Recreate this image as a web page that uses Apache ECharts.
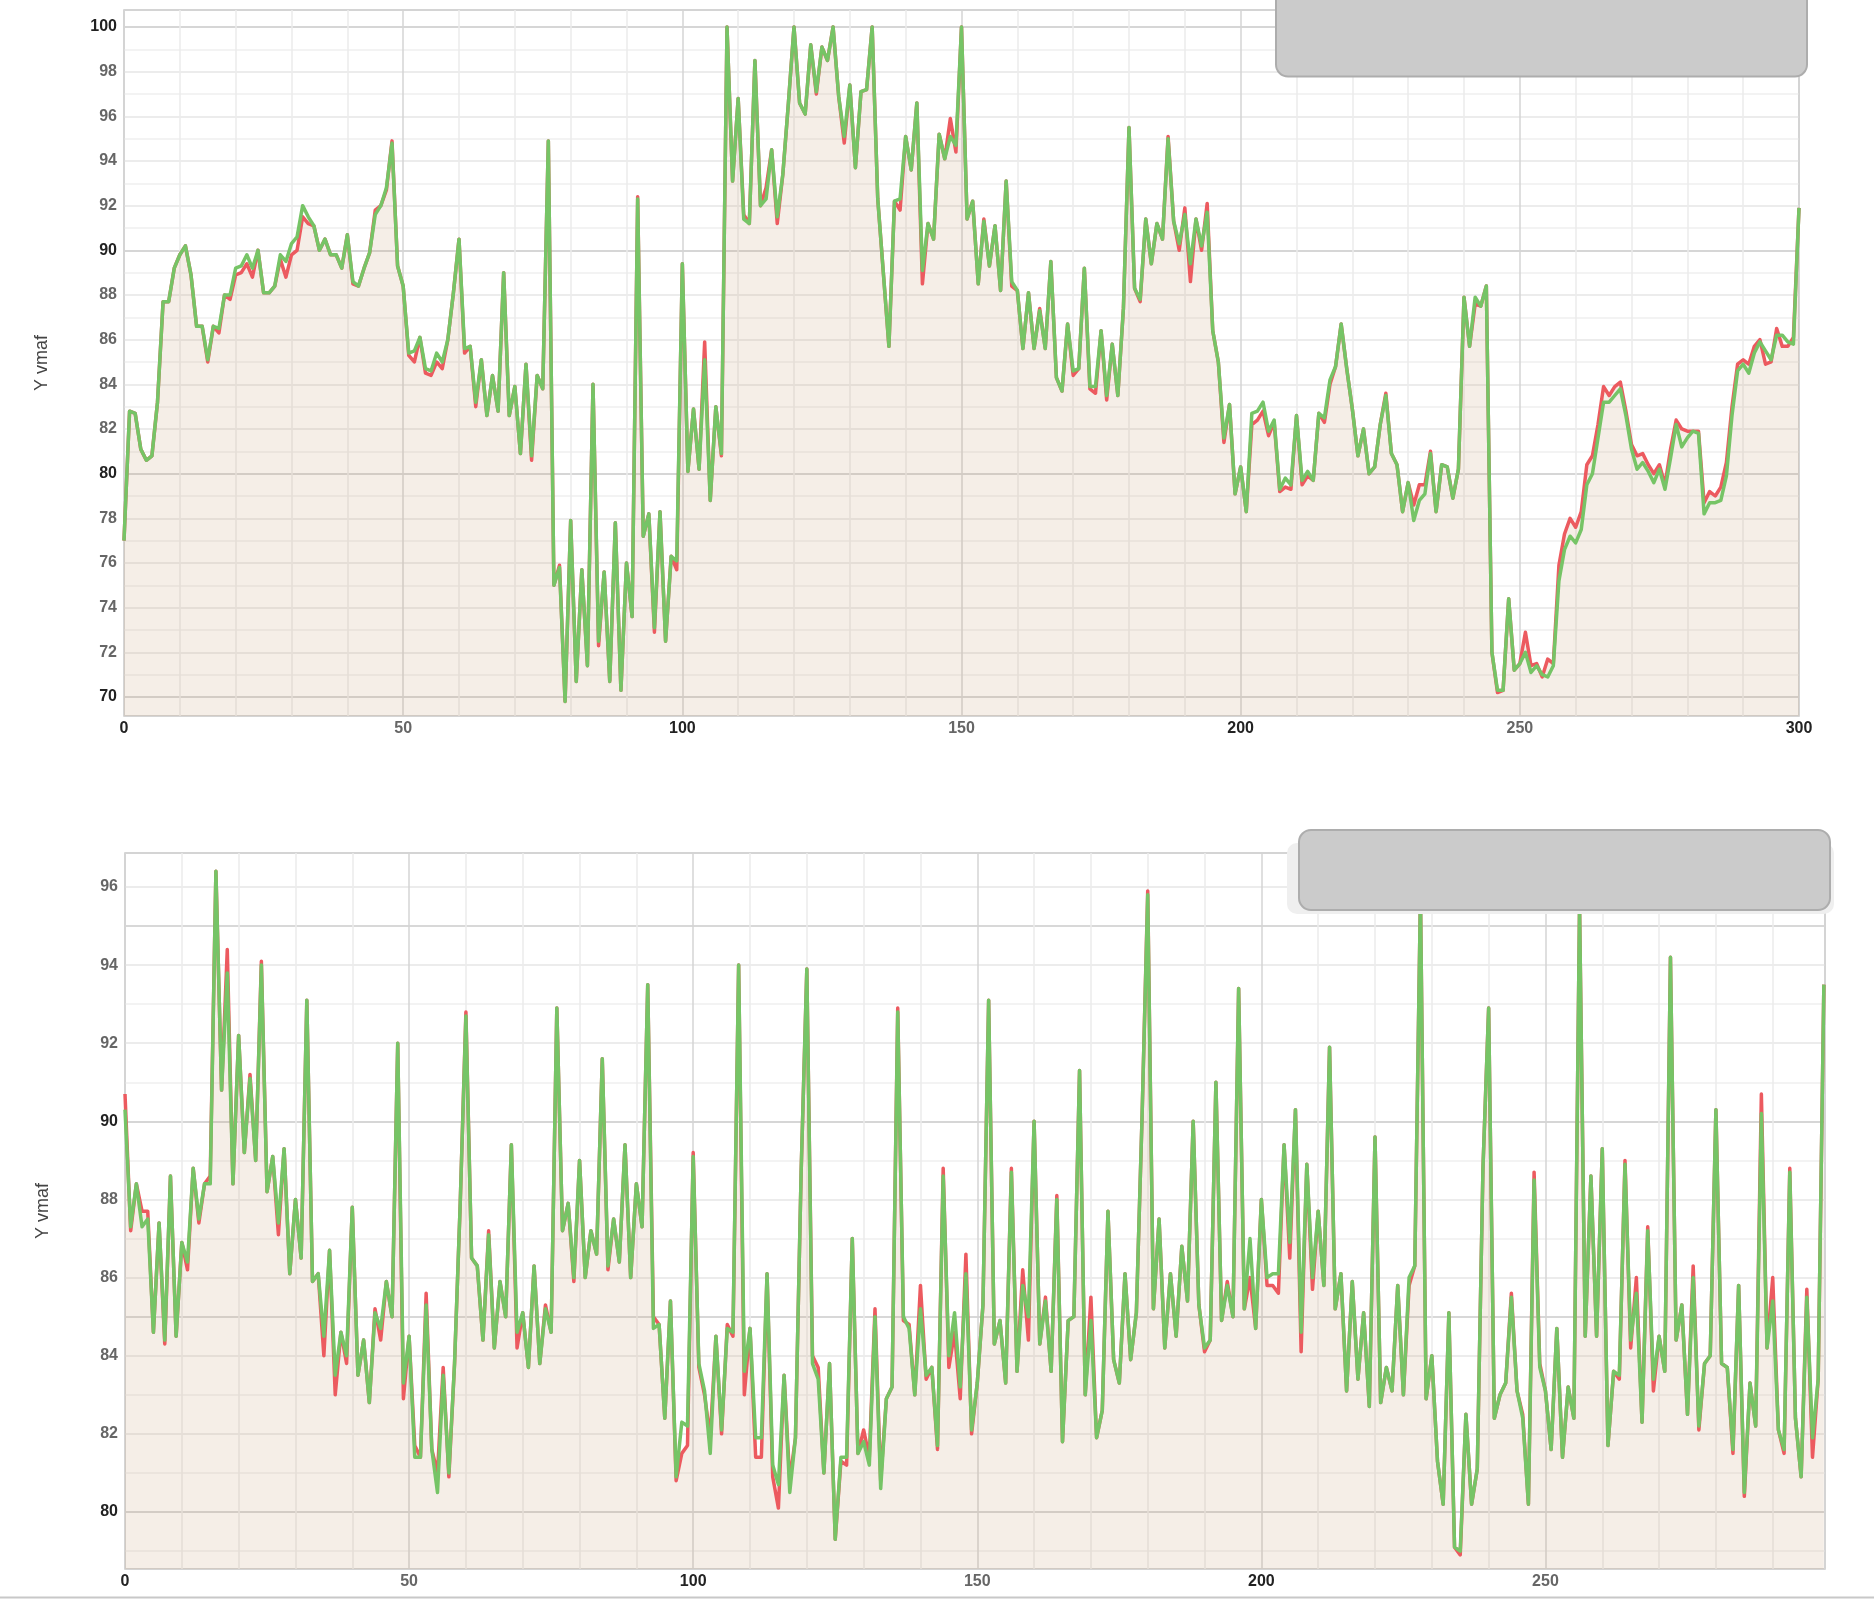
<!DOCTYPE html>
<html><head><meta charset="utf-8">
<script src="https://cdn.jsdelivr.net/npm/echarts@6/dist/echarts.min.js"></script>
<style>html,body{margin:0;padding:0;background:#fff;overflow:hidden}#c{width:1874px;height:1599px}</style>
</head><body><div id="c"></div>
<script>
// ---------- DATA (frame index = array position) ----------
const topGreen = [
77.0,82.8,82.7,81.1,80.6,80.8,83.2,87.7,87.7,89.2,
89.8,90.2,88.9,86.6,86.6,85.1,86.6,86.5,88.0,88.0,
89.2,89.3,89.8,89.2,90.0,88.1,88.1,88.4,89.8,89.5,
90.3,90.6,92.0,91.5,91.1,90.0,90.5,89.8,89.8,89.2,
90.7,88.6,88.4,89.2,89.9,91.6,92.0,92.8,94.8,89.3,
88.4,85.4,85.5,86.1,84.7,84.6,85.4,85.0,86.0,88.1,
90.5,85.6,85.7,83.2,85.1,82.6,84.4,82.8,89.0,82.6,
83.9,80.9,84.9,80.8,84.4,83.8,94.9,75.0,75.8,69.8,
77.9,70.7,75.7,71.4,84.0,72.5,75.6,70.7,77.8,70.3,
76.0,73.6,92.3,77.2,78.2,73.1,78.3,72.5,76.3,76.1,
89.4,80.1,82.9,80.2,85.1,78.8,83.0,80.9,100.0,93.1,
96.8,91.4,91.2,98.5,92.0,92.3,94.5,91.5,93.4,96.6,
100.0,96.6,96.1,99.2,97.1,99.1,98.5,100.0,96.9,95.1,
97.4,93.7,97.1,97.2,100.0,92.3,89.0,85.7,92.2,92.3,
95.1,93.6,96.6,89.1,91.2,90.5,95.2,94.1,95.1,94.7,
100.0,91.4,92.2,88.5,91.3,89.3,91.1,88.2,93.1,88.6,
88.2,85.6,88.1,85.6,87.3,85.6,89.5,84.3,83.7,86.7,
84.6,84.7,89.2,83.9,83.9,86.4,83.5,85.8,83.5,87.4,
95.5,88.3,87.8,91.4,89.4,91.2,90.5,95.0,91.3,90.3,
91.6,89.4,91.4,90.2,91.7,86.4,85.0,81.6,83.1,79.1,
80.3,78.3,82.7,82.8,83.2,81.9,82.4,79.3,79.8,79.5,
82.6,79.7,80.1,79.7,82.7,82.5,84.2,84.8,86.7,84.7,
82.9,80.8,82.0,80.0,80.3,82.2,83.5,80.9,80.4,78.3,
79.6,77.9,78.8,79.1,80.9,78.3,80.4,80.3,78.9,80.2,
87.9,85.7,87.9,87.5,88.4,72.0,70.3,70.3,74.4,71.2,
71.5,72.0,71.1,71.4,71.0,70.9,71.4,75.2,76.6,77.2,
76.9,77.5,79.5,80.0,81.6,83.2,83.2,83.5,83.8,82.6,
81.1,80.2,80.5,80.1,79.6,80.2,79.3,80.7,82.2,81.2,
81.6,81.9,81.8,78.2,78.7,78.7,78.8,79.9,82.6,84.6,
84.9,84.5,85.4,85.9,85.5,85.1,86.2,86.2,85.9,85.8,
91.9];

const topRed = [
77.0,82.8,82.7,81.1,80.6,80.8,83.2,87.7,87.7,89.2,
89.8,90.2,88.9,86.6,86.6,85.0,86.6,86.3,88.0,87.8,
88.9,89.0,89.4,88.8,90.0,88.1,88.1,88.4,89.6,88.8,
89.8,90.0,91.5,91.2,91.1,90.0,90.5,89.8,89.8,89.2,
90.7,88.5,88.4,89.2,89.9,91.8,92.0,92.7,94.9,89.3,
88.4,85.3,85.0,86.1,84.5,84.4,85.0,84.7,86.0,88.1,
90.5,85.4,85.7,83.0,85.1,82.6,84.4,82.8,89.0,82.6,
83.9,80.9,84.9,80.6,84.4,83.8,94.9,75.0,75.9,69.8,
77.9,70.7,75.7,71.4,84.0,72.3,75.6,70.7,77.8,70.3,
76.0,73.6,92.4,77.2,78.2,72.9,78.3,72.5,76.3,75.7,
89.4,80.1,82.9,80.2,85.9,78.8,83.0,80.8,100.0,93.1,
96.8,91.6,91.2,98.5,92.0,92.8,94.5,91.2,93.4,96.6,
100.0,96.6,96.1,99.2,97.0,99.1,98.5,100.0,96.9,94.8,
97.4,93.7,97.1,97.2,100.0,92.3,89.0,85.7,92.2,91.8,
95.1,93.6,96.6,88.5,91.2,90.5,95.2,94.1,95.9,94.4,
100.0,91.4,92.2,88.5,91.4,89.3,91.1,88.2,93.1,88.4,
88.2,85.6,88.1,85.6,87.4,85.6,89.5,84.3,83.7,86.7,
84.4,84.7,89.2,83.8,83.6,86.4,83.3,85.8,83.5,87.4,
95.5,88.3,87.7,91.4,89.4,91.2,90.5,95.1,91.3,90.0,
91.9,88.6,91.4,90.0,92.1,86.4,85.0,81.4,83.1,79.1,
80.3,78.3,82.2,82.4,82.8,81.7,82.3,79.2,79.4,79.3,
82.6,79.5,79.9,79.7,82.7,82.3,84.0,84.8,86.7,84.7,
82.9,80.8,82.0,80.0,80.3,82.2,83.6,80.9,80.4,78.3,
79.6,78.6,79.5,79.5,81.0,78.3,80.4,80.3,78.9,80.2,
87.9,85.7,87.6,87.5,88.4,72.0,70.2,70.3,74.4,71.2,
71.5,72.9,71.4,71.5,70.9,71.7,71.5,75.9,77.3,78.0,
77.6,78.3,80.4,80.8,82.2,83.9,83.5,83.9,84.1,82.8,
81.3,80.8,80.9,80.4,80.0,80.4,79.5,81.1,82.4,82.0,
81.9,81.9,81.9,78.7,79.2,79.0,79.4,80.5,83.0,84.9,
85.1,84.9,85.7,86.0,84.9,85.0,86.5,85.7,85.7,86.1,
91.9];

const bottomGreen = [
90.3,87.3,88.4,87.3,87.5,84.6,87.4,84.4,88.6,84.5,
86.9,86.4,88.8,87.5,88.4,88.4,96.4,90.8,93.8,88.4,
92.2,89.2,91.1,89.0,94.0,88.2,89.1,87.4,89.3,86.1,
88.0,86.5,93.1,85.9,86.1,84.5,86.7,83.5,84.6,84.0,
87.8,83.5,84.4,82.8,85.1,84.7,85.9,85.0,92.0,83.3,
84.5,81.4,81.4,85.3,81.6,80.5,83.5,81.0,83.8,87.9,
92.7,86.5,86.3,84.4,87.1,84.2,85.9,85.0,89.4,84.6,
85.1,83.7,86.3,83.8,85.2,84.6,92.9,87.2,87.9,86.0,
89.0,86.0,87.2,86.6,91.6,86.3,87.5,86.4,89.4,86.0,
88.4,87.3,93.5,84.7,84.8,82.4,85.4,80.9,82.3,82.2,
89.1,83.8,83.1,81.5,84.5,82.1,84.7,84.6,94.0,83.6,
84.7,81.9,81.9,86.1,81.2,80.7,83.5,80.5,81.9,88.7,
93.9,83.8,83.4,81.0,83.8,79.3,81.4,81.4,87.0,81.5,
81.8,81.2,85.0,80.6,82.9,83.2,92.8,85.0,84.7,83.0,
85.2,83.5,83.7,81.7,88.6,84.0,85.1,83.2,86.1,82.1,
83.3,85.3,93.1,84.3,84.9,83.3,88.7,83.6,85.8,85.0,
90.0,84.3,85.4,83.6,88.0,81.8,84.9,85.0,91.3,83.0,
84.9,81.9,82.6,87.7,83.9,83.3,86.1,83.9,85.1,90.1,
95.8,85.2,87.5,84.2,86.1,84.5,86.8,85.4,90.0,85.3,
84.2,84.4,91.0,84.9,85.8,85.0,93.4,85.2,87.0,84.7,
88.0,86.0,86.1,86.1,89.4,86.9,90.3,84.6,88.9,86.0,
87.7,85.8,91.9,85.2,86.1,83.1,85.9,83.4,85.1,82.7,
89.6,82.8,83.7,83.1,85.8,83.0,86.0,86.3,95.8,82.9,
84.0,81.3,80.2,85.1,79.1,79.0,82.5,80.2,81.1,88.8,
92.9,82.4,83.0,83.3,85.5,83.1,82.4,80.2,88.5,83.7,
83.1,81.6,84.7,81.4,83.2,82.4,95.5,84.5,88.6,84.5,
89.3,81.7,83.6,83.5,88.9,84.4,85.6,82.3,87.2,83.4,
84.5,83.6,94.2,84.4,85.3,82.5,86.0,82.2,83.8,84.0,
90.3,83.8,83.7,81.6,85.8,80.5,83.3,82.2,90.2,84.2,
85.4,82.1,81.6,88.7,82.4,80.9,85.5,81.9,83.4,93.5];

const bottomRed = [
90.7,87.2,88.4,87.7,87.7,84.6,87.4,84.3,88.6,84.5,
86.9,86.2,88.8,87.4,88.4,88.6,96.4,90.8,94.4,88.4,
92.2,89.2,91.2,89.0,94.1,88.2,89.1,87.1,89.3,86.1,
88.0,86.5,93.1,85.9,86.1,84.0,86.7,83.0,84.6,83.8,
87.8,83.5,84.4,82.8,85.2,84.4,85.9,85.0,92.0,82.9,
84.5,81.7,81.4,85.6,81.6,81.0,83.7,80.9,83.8,87.9,
92.8,86.5,86.3,84.4,87.2,84.2,85.9,85.0,89.4,84.2,
85.1,83.7,86.3,83.8,85.3,84.6,92.9,87.2,87.9,85.9,
89.0,86.0,87.2,86.6,91.6,86.2,87.5,86.4,89.4,86.0,
88.4,87.3,93.5,85.0,84.8,82.4,85.4,80.8,81.5,81.7,
89.2,83.7,83.0,81.9,84.5,82.0,84.8,84.5,94.0,83.0,
84.7,81.4,81.4,86.1,80.9,80.1,83.5,80.8,81.9,88.7,
93.9,84.0,83.7,81.0,83.8,79.3,81.3,81.2,87.0,81.5,
82.1,81.4,85.2,80.8,82.9,83.2,92.9,84.9,84.8,83.0,
85.8,83.4,83.7,81.6,88.8,83.7,84.6,82.9,86.6,82.0,
83.3,85.3,93.1,84.3,84.9,83.3,88.8,83.6,86.2,84.4,
90.0,84.3,85.5,83.6,88.1,81.8,84.9,85.0,91.3,83.0,
85.5,81.9,82.6,87.7,83.9,83.3,86.1,83.9,85.1,90.1,
95.9,85.2,87.5,84.2,86.1,84.5,86.8,85.4,90.0,85.3,
84.1,84.4,91.0,84.9,85.9,85.0,93.4,85.2,86.0,84.7,
88.0,85.8,85.8,85.6,89.4,86.5,90.3,84.1,88.9,85.7,
87.7,85.8,91.9,85.2,86.1,83.1,85.9,83.4,85.1,82.7,
89.6,82.8,83.7,83.1,85.8,83.0,85.8,86.3,95.8,82.9,
84.0,81.3,80.2,85.1,79.1,78.9,82.5,80.2,81.1,88.8,
92.9,82.4,83.0,83.3,85.6,83.1,82.5,80.2,88.7,83.8,
83.1,81.6,84.7,81.4,83.2,82.4,95.5,84.5,88.6,84.5,
89.3,81.7,83.6,83.4,89.0,84.2,86.0,82.3,87.3,83.1,
84.5,83.6,94.2,84.4,85.3,82.5,86.3,82.1,83.8,84.0,
90.3,83.8,83.7,81.5,85.8,80.4,83.3,82.2,90.7,84.2,
86.0,82.1,81.5,88.8,82.4,80.9,85.7,81.4,83.4,93.5];

const yAxisName = 'Y vmaf';

// ---------- STYLE ----------
const FONT = '"Liberation Sans", Arial, sans-serif';
const RED = '#ec5a5f';
const GREEN = '#76c466';
const FILL = 'rgba(196,158,120,0.25)';

function pairs(arr) { return arr.map((v, i) => [i, v]); }

function yLabelFmt(major) {
  return function (v) {
    const r = Math.round(v);
    return (r % major === 0) ? '{b|' + r + '}' : '{n|' + r + '}';
  };
}
function xLabelFmt(v) {
  const r = Math.round(v);
  return (r % 100 === 0) ? '{b|' + r + '}' : '{n|' + r + '}';
}
const rich = {
  b: { fontFamily: FONT, fontSize: 16, fontWeight: 'bold', color: '#222' },
  n: { fontFamily: FONT, fontSize: 16, fontWeight: 'bold', color: '#666' }
};

function xAxisCfg(gi, max) {
  return {
    type: 'value', gridIndex: gi, min: 0, max: max, interval: 50,
    axisLine: { show: false }, axisTick: { show: false },
    axisLabel: { margin: 5, formatter: xLabelFmt, rich: rich, showMaxLabel: max % 50 === 0 },
    splitLine: { show: true, lineStyle: { color: '#d4d4d4', width: 1.5 } },
    minorTick: { show: false, splitNumber: 5 },
    minorSplitLine: { show: true, lineStyle: { color: '#ebebeb', width: 1.5 } }
  };
}
function yLabelAxis(gi, min, max, split, major) {
  return {
    type: 'value', gridIndex: gi, position: 'left', min: min, max: max, splitNumber: split,
    axisLine: { show: false }, axisTick: { show: false },
    axisLabel: { margin: 7, formatter: yLabelFmt(major), rich: rich, showMinLabel: false, showMaxLabel: false },
    splitLine: { show: true, lineStyle: { color: '#e6e6e6', width: 1.5 } },
    minorTick: { show: false, splitNumber: 2 },
    minorSplitLine: { show: true, lineStyle: { color: '#efefef', width: 1.5 } },
    name: yAxisName, nameLocation: 'middle', nameGap: 73, nameRotate: 90,
    nameTextStyle: { fontFamily: FONT, fontSize: 18, color: '#444' }
  };
}
function yMajorAxis(gi, min, max, split) {
  return {
    type: 'value', gridIndex: gi, position: 'left', min: min, max: max, splitNumber: split,
    axisLine: { show: false }, axisTick: { show: false }, axisLabel: { show: false },
    splitLine: { show: true, lineStyle: { color: '#cfcfcf', width: 1.5 } }
  };
}
function lineSeries(name, xi, yi, data, color, area, z) {
  const s = {
    name: name, type: 'line', xAxisIndex: xi, yAxisIndex: yi, data: pairs(data),
    symbol: 'none', smooth: false, z: z,
    lineStyle: { color: color, width: 3.5, join: 'round' }
  };
  if (area) s.areaStyle = { color: FILL, origin: 'start' };
  return s;
}

const chart = echarts.init(document.getElementById('c'), null, { renderer: 'canvas' });
chart.setOption({
  animation: false,
  backgroundColor: '#fff',
  grid: [
    { left: 124, top: 10, width: 1675, height: 706, show: true, borderColor: '#c6c6c6', borderWidth: 1.5, backgroundColor: 'transparent' },
    { left: 125, top: 853, width: 1700, height: 716, show: true, borderColor: '#c6c6c6', borderWidth: 1.5, backgroundColor: 'transparent' }
  ],
  xAxis: [ xAxisCfg(0, 300), xAxisCfg(1, 299.2) ],
  yAxis: [
    yLabelAxis(0, 69.15, 100.76, 16, 10),
    yMajorAxis(0, 69.15, 100.76, 3),
    yLabelAxis(1, 78.54, 96.87, 9, 10),
    yMajorAxis(1, 78.54, 96.87, 4)
  ],
  series: [
    lineSeries('red top', 0, 0, topRed, RED, true, 2),
    lineSeries('green top', 0, 0, topGreen, GREEN, false, 3),
    lineSeries('red bottom', 1, 2, bottomRed, RED, true, 2),
    lineSeries('green bottom', 1, 2, bottomGreen, GREEN, false, 3)
  ],
  graphic: [
    { type: 'rect', z: 100, shape: { x: 1276, y: -20, width: 531, height: 96.5, r: 12 },
      style: { fill: '#cbcbcb', stroke: '#adadad', lineWidth: 2 } },
    { type: 'rect', z: 99, shape: { x: 1287, y: 843, width: 547, height: 71, r: 10 },
      style: { fill: '#efefef' } },
    { type: 'rect', z: 100, shape: { x: 1299, y: 830, width: 531, height: 80, r: 12 },
      style: { fill: '#cbcbcb', stroke: '#adadad', lineWidth: 2 } },
    { type: 'line', z: 100, shape: { x1: 0, y1: 1597.5, x2: 1874, y2: 1597.5 },
      style: { stroke: '#c8c8c8', lineWidth: 2 } }
  ]
});
</script>
</body></html>
